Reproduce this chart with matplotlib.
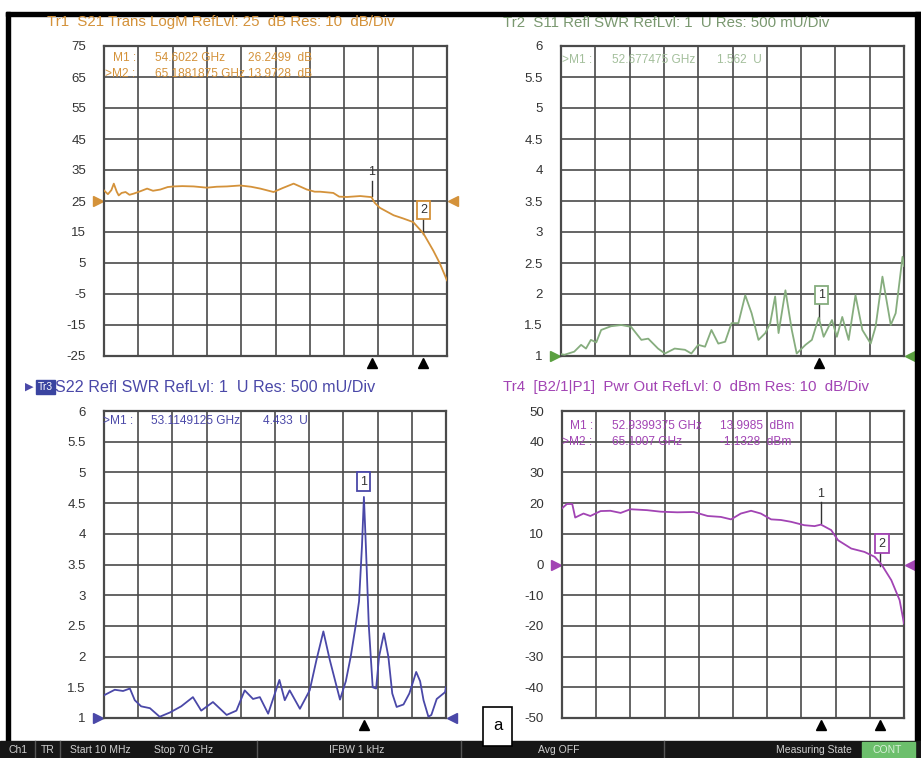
import matplotlib
matplotlib.use("Agg")
import matplotlib.pyplot as plt
from matplotlib.patches import Rectangle

FONT = ['Liberation Sans', 'DejaVu Sans']
plt.rcParams['font.family'] = FONT

W, H = 921, 758

# frequency axis, GHz (10 MHz .. 70 GHz)
f_start, f_stop = 0.0, 70.0

# --- Tr1 : S21 transmission, dB
s21_f = [0, 0.8, 1.5, 2.0, 2.6, 3.0, 3.6, 4.4, 5.2, 6.1, 7.5, 8.8, 10, 11.5, 13, 14.2, 16, 18.3,
         21, 23, 25.1, 27.8, 30, 31.9, 34.6, 36.5, 38.7, 41.4, 43, 44.1, 46.8, 48, 49.6, 52.3,
         54.6, 55.2, 56.3, 59.1, 61, 63.1, 65.2, 67.2, 68.5, 70]
s21_db = [28.4, 27.2, 28.5, 30.6, 28.0, 26.8, 27.6, 27.9, 27.0, 27.4, 28.2, 29.0, 28.3, 28.7, 29.5,
          29.7, 29.8, 29.7, 29.3, 29.6, 29.7, 30.0, 29.6, 29.0, 27.9, 29.2, 30.6, 28.7, 28.0, 28.0,
          27.6, 26.4, 26.3, 26.6, 26.25, 24.5, 22.8, 20.4, 19.4, 18.2, 14.5, 9.0, 5.0, -0.6]

# --- Tr2 : S11 SWR
s11_f = [0, 0.7, 2.7, 4.1, 5.1, 6.1, 7.2, 8.2, 10.2, 12.3, 14.3, 16.4, 17.8, 19.8, 21.2, 23.2, 25.3,
         26.6, 28.0, 29.4, 30.7, 32.1, 33.5, 34.8, 36.2, 37.6, 38.9, 40.3, 41.7, 42.7, 43.7, 44.4,
         45.8, 47.1, 48.1, 49.9, 51.2, 52.6, 53.6, 55.3, 56.3, 57.4, 58.7, 60.1, 61.5, 63.2, 64.2,
         65.6, 67.3, 68.3, 69.7, 70]
s11_swr = [1.03, 1.02, 1.07, 1.18, 1.12, 1.26, 1.22, 1.42, 1.48, 1.50, 1.47, 1.26, 1.28, 1.12, 1.04,
           1.12, 1.10, 1.04, 1.18, 1.15, 1.42, 1.20, 1.23, 1.53, 1.53, 1.98, 1.69, 1.26, 1.37, 1.53,
           1.96, 1.37, 2.06, 1.42, 1.04, 1.18, 1.26, 1.62, 1.31, 1.58, 1.31, 1.63, 1.26, 1.98, 1.42,
           1.20, 1.47, 2.28, 1.50, 1.69, 2.60, 2.45]

# --- Tr3 : S22 SWR
s22_f = [0, 2.2, 3.9, 5.3, 6.3, 7.6, 9.4, 11.4, 13.5, 15.8, 18.2, 19.9, 22.3, 25.1, 27.1, 28.8, 30.5,
         31.9, 33.6, 35.9, 37.0, 38.0, 40.1, 42.1, 43.5, 44.9, 46.2, 48.3, 49.5, 50.5, 51.5, 52.2,
         52.8, 53.2, 53.6, 54.2, 55.0, 55.7, 56.3, 57.3, 58.2, 59.0, 59.9, 61.3, 62.5, 63.9, 64.7,
         65.4, 66.4, 67.0, 68.1, 69.8, 70]
s22_swr = [1.37, 1.46, 1.44, 1.48, 1.29, 1.19, 1.16, 1.02, 1.09, 1.19, 1.34, 1.12, 1.26, 1.05, 1.12,
           1.45, 1.31, 1.34, 1.07, 1.62, 1.29, 1.45, 1.15, 1.45, 1.95, 2.41, 1.95, 1.30, 1.60, 2.00,
           2.50, 2.90, 3.80, 4.60, 3.80, 2.50, 1.50, 1.48, 2.00, 2.38, 2.00, 1.40, 1.18, 1.22, 1.40,
           1.75, 1.60, 1.29, 1.02, 1.05, 1.31, 1.42, 1.50]

# --- Tr4 : output power, dBm
pwr_f = [0, 1.0, 2.1, 2.7, 4.4, 5.8, 7.9, 9.9, 12.0, 14.0, 17.4, 20.2, 23.6, 27.0, 29.8, 32.5, 34.6,
         36.6, 38.7, 40.7, 42.8, 44.8, 46.9, 49.6, 51.7, 53.0, 55.1, 56.5, 59.2, 61.9, 64.0, 65.4,
         67.4, 69.1, 70]
pwr_dbm = [18.3, 19.7, 19.7, 15.3, 16.6, 15.8, 17.4, 17.5, 16.8, 18.0, 17.7, 17.2, 17.0, 17.1, 15.8,
           15.5, 14.7, 16.6, 17.5, 16.6, 14.7, 14.5, 13.9, 12.8, 12.5, 13.0, 11.2, 7.9, 5.2, 4.1,
           2.5, 0.0, -5.1, -11.6, -19.2]

# titles, readouts, ticks
titles = ["Tr1  S21 Trans LogM RefLvl: 25  dB Res: 10  dB/Div",
          "Tr2  S11 Refl SWR RefLvl: 1  U Res: 500 mU/Div",
          "S22 Refl SWR RefLvl: 1  U Res: 500 mU/Div",
          "Tr4  [B2/1|P1]  Pwr Out RefLvl: 0  dBm Res: 10  dB/Div"]
readouts = [[("M1 :", "54.6022 GHz", "26.2499  dB"), (">M2 :", "65.1881875 GHz", "13.9728  dB")],
            [(">M1 :", "52.677475 GHz", "1.562  U")],
            [(">M1 :", "53.1149125 GHz", "4.433  U")],
            [("M1 :", "52.9399375 GHz", "13.9985  dBm"), (">M2 :", "65.1007 GHz", "-1.1328  dBm")]]
yticks_db = [75, 65, 55, 45, 35, 25, 15, 5, -5, -15, -25]
yticks_swr = [6, 5.5, 5, 4.5, 4, 3.5, 3, 2.5, 2, 1.5, 1]
yticks_pwr = [50, 40, 30, 20, 10, 0, -10, -20, -30, -40, -50]
swr_labels = ["6", "5.5", "5", "4.5", "4", "3.5", "3", "2.5", "2", "1.5", "1"]

# marker frequencies
m_s21 = [54.6022, 65.1881875]
m_s11 = [52.677475]
m_s22 = [53.1149125]
m_pwr = [52.9399375, 65.1007]

c_tr1, c_tr2, c_tr3, c_tr4 = '#d4923a', '#86ad7e', '#4a48a8', '#a244b4'
grid_c = '#4a4a4a'

fig = plt.figure(figsize=(W / 100, H / 100), dpi=100)
fig.patch.set_facecolor('white')


def px_axes(x0, y0, x1, y1):
    return fig.add_axes([x0 / W, 1 - y1 / H, (x1 - x0) / W, (y1 - y0) / H])


def fig_text(x, y, s, **kw):
    fig.text(x / W, 1 - y / H, s, va='center', **kw)


def setup(ax, ticks, labels):
    ax.set_xlim(f_start, f_stop)
    ax.set_ylim(ticks[-1], ticks[0])
    ax.set_xticks([f_start + i * 7 for i in range(11)])
    ax.set_xticklabels([])
    ax.set_yticks(ticks)
    ax.set_yticklabels(labels, fontsize=9.5, color='#333333')
    ax.tick_params(length=0, pad=13)
    ax.grid(True, color=grid_c, linewidth=1.2)
    for s in ax.spines.values():
        s.set_color(grid_c)
        s.set_linewidth(1.6)
    ax.set_axisbelow(True)


def ref_arrows(ax, level, color):
    tr = ax.get_yaxis_transform()
    ax.plot([-0.018], [level], marker='>', color=color, markersize=7, transform=tr, clip_on=False)
    ax.plot([1.018], [level], marker='<', color=color, markersize=7, transform=tr, clip_on=False)


def marker_ticks(ax, freqs):
    tr = ax.get_xaxis_transform()
    for f in freqs:
        ax.plot([f], [-0.022], marker='^', color='black', markersize=6.5, transform=tr, clip_on=False)


def readout(x_lab, x_freq, x_val, y, rows, color):
    for i, (lab, fr, val) in enumerate(rows):
        yy = y + i * 16
        xl = x_lab if lab.startswith('>') else x_lab + 8
        fig_text(xl, yy, lab, fontsize=8.6, color=color)
        fig_text(x_freq, yy, fr, fontsize=8.6, color=color)
        fig_text(x_val, yy, val, fontsize=8.6, color=color)


def boxed(ax, f, y, s, color):
    ax.text(f, y, s, ha='center', va='center', fontsize=9, color='#333333',
            bbox=dict(boxstyle='square,pad=0.25', fc='white', ec=color, lw=1.3), zorder=5)


# outer frame
fig.patches.append(Rectangle((6 / W, 1 - 741 / H), 4 / W, 729 / H, transform=fig.transFigure,
                             color='black', zorder=0))
fig.patches.append(Rectangle((6 / W, 1 - 16 / H), 915 / W, 4 / H, transform=fig.transFigure,
                             color='black', zorder=0))
fig.patches.append(Rectangle((915 / W, 1 - 741 / H), 6 / W, 729 / H, transform=fig.transFigure,
                             color='black', zorder=0))

# Tr1
ax1 = px_axes(104, 46, 447, 356)
setup(ax1, yticks_db, [str(v) for v in yticks_db])
ax1.plot(s21_f, s21_db, color=c_tr1, lw=1.3, zorder=3)
ref_arrows(ax1, 25, c_tr1)
marker_ticks(ax1, m_s21)
ax1.text(m_s21[0], 34.3, "1", ha='center', va='center', fontsize=9, color='#333333')
ax1.plot([m_s21[0], m_s21[0]], [31.5, 26.6], color='#333333', lw=1)
boxed(ax1, m_s21[1], 22, "2", c_tr1)
ax1.plot([m_s21[1], m_s21[1]], [19.6, 14.3], color='#333333', lw=1)
fig_text(47, 22, titles[0], fontsize=10.8, color=c_tr1)
readout(105, 155, 248, 58, readouts[0], c_tr1)

# Tr2
ax2 = px_axes(561, 46, 904, 356)
setup(ax2, yticks_swr, swr_labels)
ax2.plot(s11_f, s11_swr, color=c_tr2, lw=1.3, zorder=3)
ref_arrows(ax2, 1, '#5aa040')
marker_ticks(ax2, m_s11)
boxed(ax2, 53.1, 1.98, "1", c_tr2)
ax2.plot([m_s11[0], m_s11[0]], [1.86, 1.6], color='#333333', lw=1)
fig_text(503, 23, titles[1], fontsize=10.8, color='#7a9870')
readout(562, 612, 717, 60, readouts[1], '#a3bf9b')

# Tr3
ax3 = px_axes(104, 411, 446, 718)
setup(ax3, yticks_swr, swr_labels)
ax3.plot(s22_f, s22_swr, color=c_tr3, lw=1.3, zorder=3)
ref_arrows(ax3, 1, c_tr3)
marker_ticks(ax3, m_s22)
boxed(ax3, m_s22[0], 4.85, "1", c_tr3)
fig_text(25, 387, "\u25b6", fontsize=8, color=c_tr3, family=['DejaVu Sans'])
fig.text(38 / W, 1 - 387 / H, "Tr3", va='center', fontsize=7.5, color='white',
         bbox=dict(boxstyle='square,pad=0.15', fc='#3a44a0', ec='#3a44a0'))
fig_text(55, 387, titles[2], fontsize=11.6, color=c_tr3)
readout(103, 151, 263, 421, readouts[2], c_tr3)

# Tr4
ax4 = px_axes(562, 411, 904, 718)
setup(ax4, yticks_pwr, [str(v) for v in yticks_pwr])
ax4.plot(pwr_f, pwr_dbm, color=c_tr4, lw=1.3, zorder=3)
ref_arrows(ax4, 0, c_tr4)
marker_ticks(ax4, m_pwr)
ax4.text(m_pwr[0], 23, "1", ha='center', va='center', fontsize=9, color='#333333')
ax4.plot([m_pwr[0], m_pwr[0]], [20.5, 13.5], color='#333333', lw=1)
boxed(ax4, 65.5, 6.8, "2", c_tr4)
ax4.plot([m_pwr[1], m_pwr[1]], [4.3, -0.5], color='#333333', lw=1)
fig_text(503, 387, titles[3], fontsize=10.8, color=c_tr4)
readout(562, 612, 720, 426, readouts[3], c_tr4)

# status bar
fig.patches.append(Rectangle((0, 0), 1, 17 / H, transform=fig.transFigure, color='#161616', zorder=0))
for xs in [35, 60, 257, 461, 664]:
    fig.lines.append(plt.Line2D([xs / W, xs / W], [0, 17 / H], transform=fig.transFigure,
                                color='#555555', lw=1))
status = [(8, "Ch1"), (41, "TR"), (70, "Start 10 MHz"), (154, "Stop 70 GHz"), (329, "IFBW 1 kHz"),
          (538, "Avg OFF"), (776, "Measuring State")]
for xs, s in status:
    fig_text(xs, 750, s, fontsize=7.5, color='#cfcfcf')
fig.patches.append(Rectangle((862 / W, 0), 53 / W, 16 / H, transform=fig.transFigure,
                             color='#6cbf6c', zorder=1))
fig_text(872, 750, "CONT", fontsize=7.5, color='#d8f0d8')

# label box "a"
fig.patches.append(Rectangle((483 / W, 1 - 746 / H), 29 / W, 39 / H, transform=fig.transFigure,
                             fc='white', ec='black', lw=1.2, zorder=2))
fig.text(497.5 / W, 1 - 726 / H, "a", ha='center', va='center', fontsize=12, color='black', zorder=3)

fig.savefig("out.png", dpi=100)
